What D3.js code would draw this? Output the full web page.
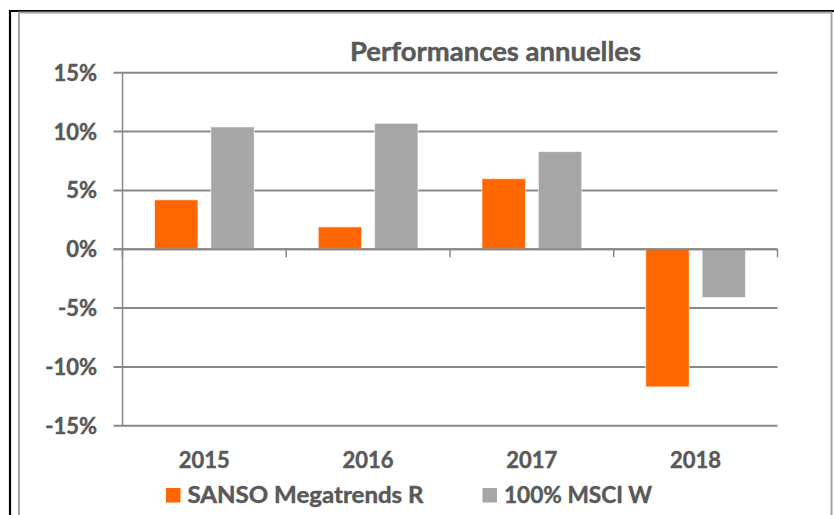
<!DOCTYPE html>
<html>
<head>
<meta charset="utf-8">
<script src="https://cdn.jsdelivr.net/npm/d3@7"></script>
<style>
  body { margin: 0; background: #fff; }
  svg { display: block; }
  text { font-family: Lato, "Open Sans", sans-serif; font-weight: bold; fill: #595959; stroke: #595959; stroke-width: 0.45px; }
</style>
</head>
<body>
<svg></svg>
<script>
'use strict'

const years = ['2015', '2016', '2017', '2018']
const series = ['SANSO Megatrends R', '100% MSCI W']
const sanso = [4.2, 1.9, 6.0, -11.7]
const msci = [10.4, 10.7, 8.3, -4.1]
const yTicks = [-15, -10, -5, 0, 5, 10, 15]
const colors = ['#FF6600', '#A6A6A6']

const width = 834
const height = 515

const svg = d3.select('svg').attr('width', width).attr('height', height)

// outer frames
svg.append('path')
    .attr('d', 'M10,' + height + 'V11H' + width)
    .attr('fill', 'none').attr('stroke', '#000').attr('stroke-width', 2.2)
svg.append('path')
    .attr('d', 'M19,' + height + 'V12.5H831.5V' + height)
    .attr('fill', 'none').attr('stroke', '#a3a3a3').attr('stroke-width', 2)

const left = 122.5, right = 777.5

const y = d3.scaleLinear().domain([-15, 15]).range([425.7, 72.8])
const x0 = d3.scaleBand().domain(years).range([left, right])
const x1 = d3.scaleBand().domain(series)
    .range([32, x0.bandwidth() - 32]).paddingInner(0.23)

const rows = years.map((yr, i) => ({ year: yr, values: [sanso[i], msci[i]] }))

// gridlines
svg.append('g').selectAll('line').data(yTicks).enter().append('line')
    .attr('x1', left - 9).attr('x2', right)
    .attr('y1', d => y(d)).attr('y2', d => y(d))
    .attr('stroke', '#888').attr('stroke-width', 2)

// bars
svg.append('g').selectAll('g').data(rows).enter().append('g')
    .attr('transform', d => 'translate(' + x0(d.year) + ',0)')
    .selectAll('rect')
    .data(d => d.values.map((v, j) => ({ key: series[j], v: v, j: j })))
    .enter().append('rect')
    .attr('x', d => x1(d.key))
    .attr('width', x1.bandwidth())
    .attr('y', d => y(Math.max(0, d.v)))
    .attr('height', d => Math.abs(y(d.v) - y(0)))
    .attr('fill', d => colors[d.j])
    .attr('stroke', 'rgba(255,255,255,0.6)').attr('stroke-width', 1)

// zero line on top of bars
svg.append('line')
    .attr('x1', left - 9).attr('x2', right)
    .attr('y1', y(0)).attr('y2', y(0))
    .attr('stroke', '#888').attr('stroke-width', 2)

// category ticks
const bounds = years.map(d => x0(d)).concat([right])
svg.append('g').selectAll('line').data(bounds).enter().append('line')
    .attr('x1', d => d).attr('x2', d => d)
    .attr('y1', y(0)).attr('y2', y(0) + 8)
    .attr('stroke', '#888').attr('stroke-width', 1.5)

// y axis line
svg.append('line')
    .attr('x1', left).attr('x2', left)
    .attr('y1', y(15)).attr('y2', y(-15))
    .attr('stroke', '#888').attr('stroke-width', 1.5)

// y labels
svg.append('g').selectAll('text').data(yTicks).enter().append('text')
    .attr('x', 97).attr('y', d => y(d) + 8)
    .attr('text-anchor', 'end')
    .style('font-size', '22px')
    .text(d => d + '%')

// x labels
svg.append('g').selectAll('text').data(years).enter().append('text')
    .attr('x', d => x0(d) + x0.bandwidth() / 2)
    .attr('y', 467.5)
    .attr('text-anchor', 'middle')
    .style('font-size', '22px')
    .text(d => d)

// title
svg.append('text')
    .attr('x', 350).attr('y', 61)
    .attr('textLength', 291).attr('lengthAdjust', 'spacingAndGlyphs')
    .style('font-size', '27px')
    .text('Performances annuelles')

// legend
const legendX = [166, 482.5]
const legendW = [236, 148]
const legend = svg.append('g').selectAll('g').data(series).enter().append('g')
    .attr('transform', (d, i) => 'translate(' + legendX[i] + ',0)')
legend.append('rect')
    .attr('x', 0).attr('y', 488).attr('width', 14.5).attr('height', 14.5)
    .attr('fill', (d, i) => colors[i])
legend.append('text')
    .attr('x', 21.5).attr('y', 502.5)
    .attr('textLength', (d, i) => legendW[i]).attr('lengthAdjust', 'spacingAndGlyphs')
    .style('font-size', '22px')
    .text(d => d)
</script>
</body>
</html>
